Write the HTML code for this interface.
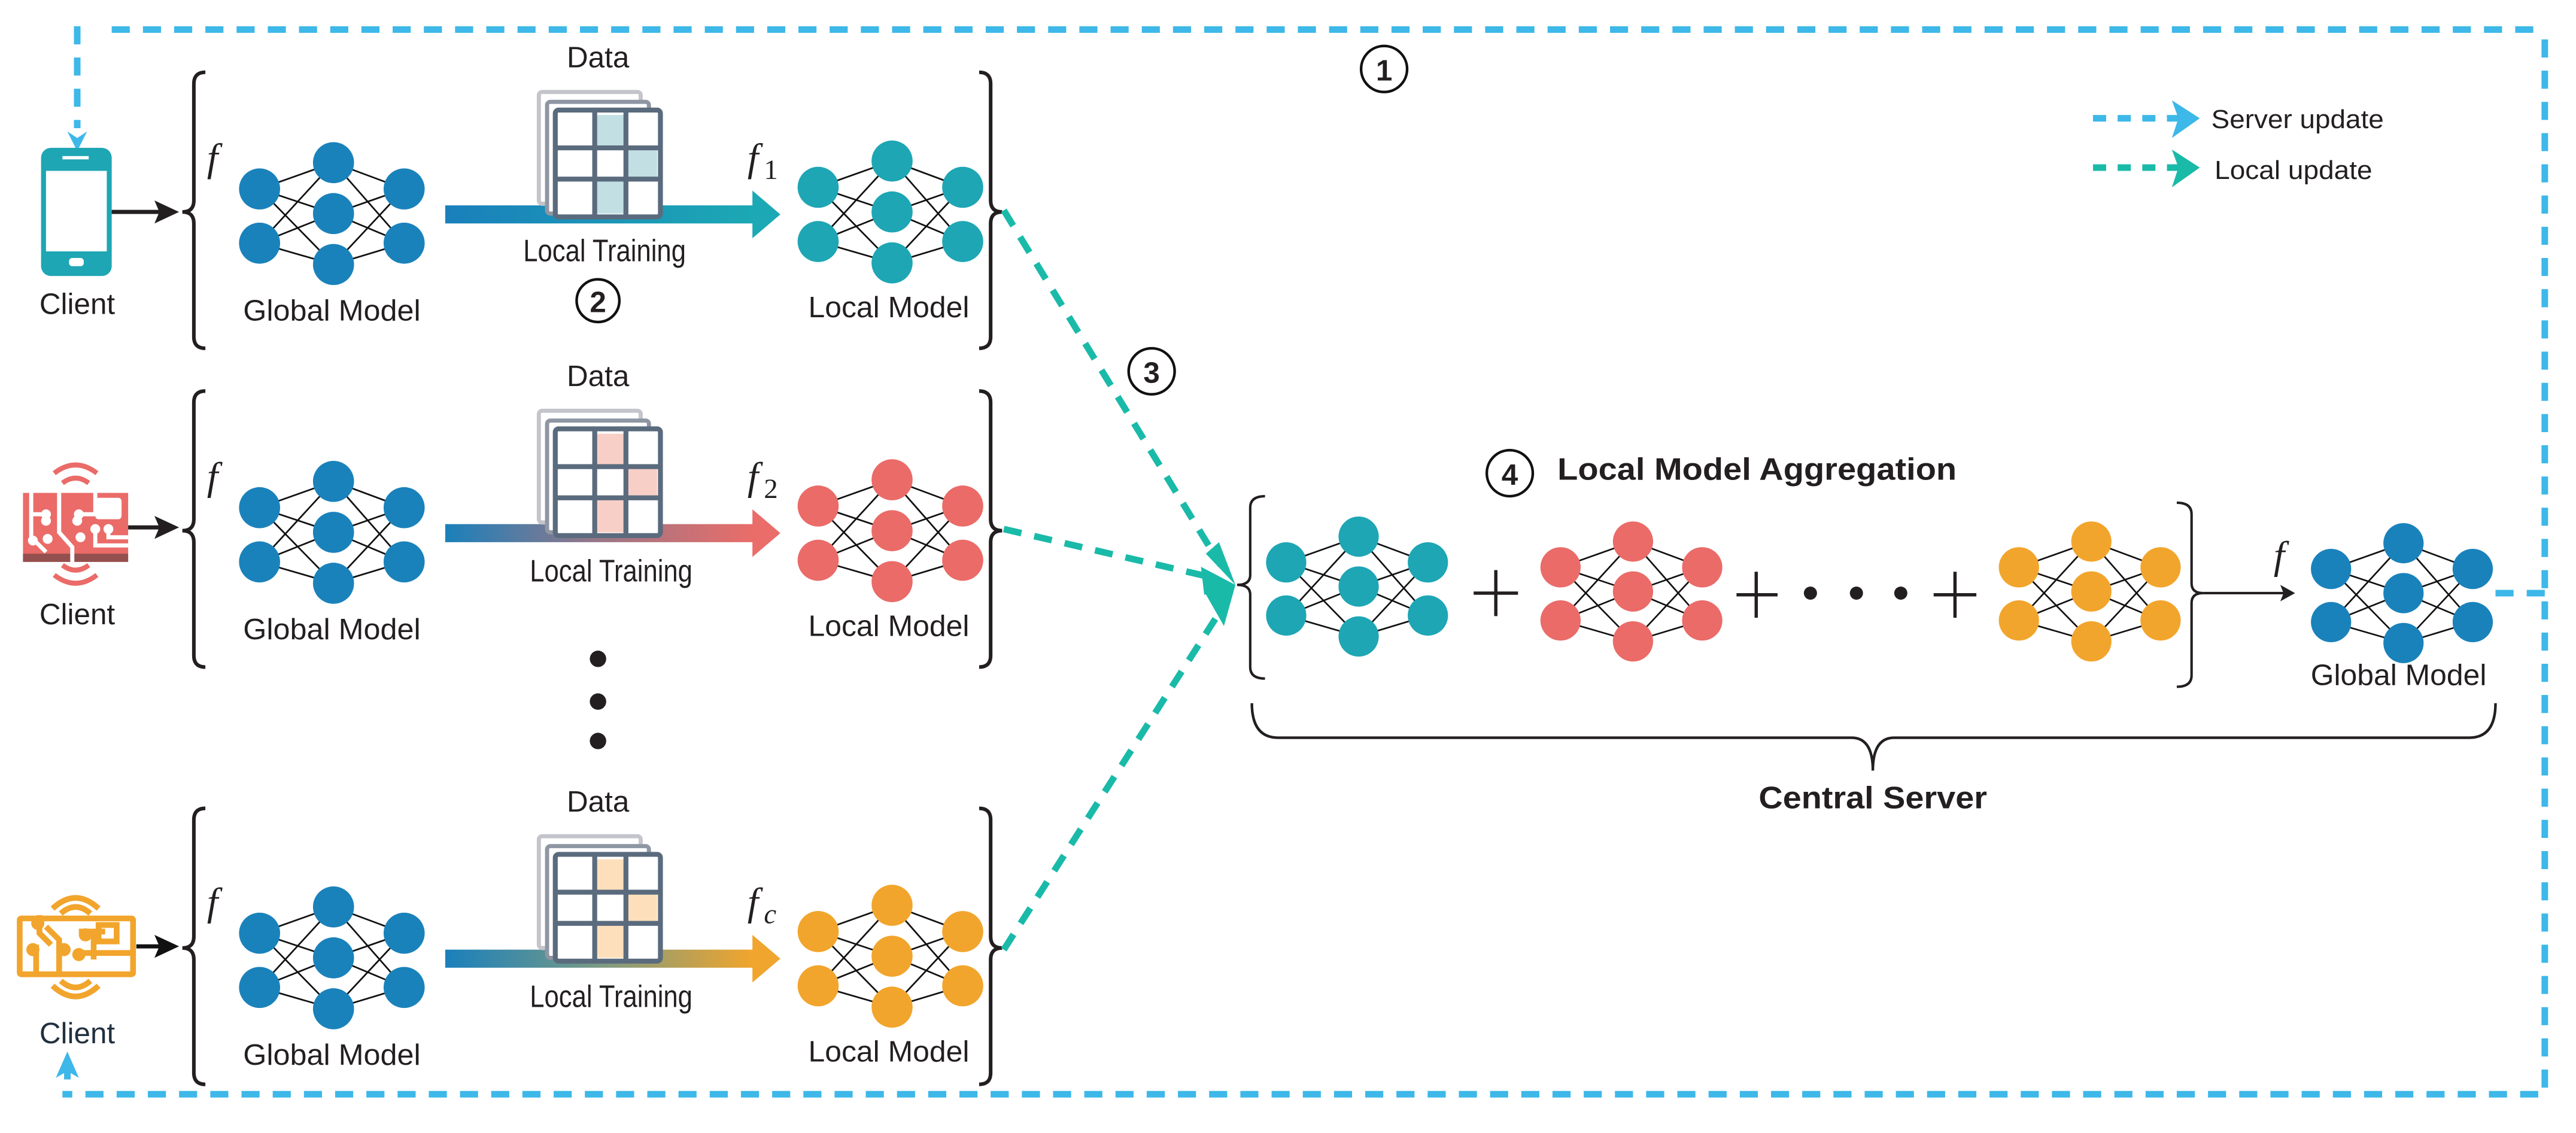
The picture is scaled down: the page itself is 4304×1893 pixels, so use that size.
<!DOCTYPE html>
<html><head><meta charset="utf-8"><style>
html,body{margin:0;padding:0;background:#fff;}
svg{display:block;}
text{font-family:"Liberation Sans Narrow","Liberation Sans",sans-serif;fill:#231f20;}
.lbl{font-size:18px;}
.it{font-family:"Liberation Serif",serif;font-style:italic;font-size:24px;}
.num{font-family:"Liberation Sans",sans-serif;font-weight:bold;font-size:18px;}
</style></head><body>
<svg width="4304" height="1893" viewBox="0 0 1568 689.6" preserveAspectRatio="none" xmlns="http://www.w3.org/2000/svg">
<defs>
<g id="net">
 <g stroke="#111" stroke-width="1" fill="none">
  <path d="M-45,-15L0,-31M-45,-15L0,0M-45,-15L0,31M-45,18L0,-31M-45,18L0,0M-45,18L0,31"/>
  <path d="M43,-15L0,-31M43,-15L0,0M43,-15L0,31M43,18L0,-31M43,18L0,0M43,18L0,31"/>
 </g>
 <circle cx="-45" cy="-15" r="12.5"/><circle cx="-45" cy="18" r="12.5"/>
 <circle cx="0" cy="-31" r="12.5"/><circle cx="0" cy="0" r="12.5"/><circle cx="0" cy="31" r="12.5"/>
 <circle cx="43" cy="-15" r="12.5"/><circle cx="43" cy="18" r="12.5"/>
</g>
<g id="lbr" fill="none" stroke="#231f20" stroke-width="2.2">
 <path d="M10,0 Q3,0 3,7 L3,78 Q3,85 -4,85 Q3,85 3,92 L3,161 Q3,168 10,168"/>
</g>
<g id="rbr" fill="none" stroke="#231f20" stroke-width="2.2">
 <path d="M-10,0 Q-3,0 -3,7 L-3,78 Q-3,85 4,85 Q-3,85 -3,92 L-3,161 Q-3,168 -10,168"/>
</g>
<linearGradient id="g1" x1="0" x2="1"><stop offset="0" stop-color="#1a80bb"/><stop offset="1" stop-color="#1ca8b4"/></linearGradient>
<linearGradient id="g2" x1="0" x2="1"><stop offset="0" stop-color="#1a80bb"/><stop offset="0.5" stop-color="#9a7686"/><stop offset="1" stop-color="#ea6d69"/></linearGradient>
<linearGradient id="g3" x1="0" x2="1"><stop offset="0" stop-color="#1a80bb"/><stop offset="0.5" stop-color="#7a9a84"/><stop offset="1" stop-color="#f2a52c"/></linearGradient>
<g id="stack">
 <rect x="328" y="56" width="62" height="68" rx="2" fill="#fff" stroke="#c4c5cc" stroke-width="2.5"/>
 <rect x="333" y="62" width="62" height="68" rx="2" fill="#fff" stroke="#8e96a3" stroke-width="2.5"/>
</g>
</defs>

<g stroke="#3db8e8" stroke-width="4" fill="none" stroke-dasharray="11 8">
 <path d="M1542,18 L62,18"/>
 <path d="M1549,24 L1549,666 L38,666"/>
 <path d="M47,16 L47,78"/>
 <path d="M1519,361 L1549,361"/>
</g>
<path d="M41,80 L47,92 L53,80 L47,84Z" fill="#3db8e8"/>
<path d="M34,656 L41,640 L48,656 L41,652Z" fill="#3db8e8"/>
<rect x="39" y="650" width="4" height="7" fill="#3db8e8"/>

<g stroke-width="4" stroke-dasharray="8 7">
 <line x1="1274" y1="72" x2="1328" y2="72" stroke="#3db8e8"/>
 <line x1="1274" y1="102" x2="1328" y2="102" stroke="#1abaa9"/>
</g>
<path d="M1322,61 L1339,72 L1322,84 L1326,72Z" fill="#3db8e8"/>
<path d="M1322,91 L1339,102 L1322,114 L1326,102Z" fill="#1abaa9"/>
<text x="1346" y="78" style="font-size:16px" textLength="105" lengthAdjust="spacingAndGlyphs">Server update</text>
<text x="1348" y="109" style="font-size:16px" textLength="96" lengthAdjust="spacingAndGlyphs">Local update</text>

<circle cx="842.5" cy="42" r="14" fill="none" stroke="#111" stroke-width="1.6"/>
<text x="842.5" y="49" text-anchor="middle" class="num">1</text>

<rect x="25" y="90" width="43" height="78" rx="6" fill="#1ea6b4"/>
<rect x="28" y="104" width="37" height="49" fill="#fff"/>
<rect x="42" y="157" width="9" height="5" rx="2" fill="#fff"/>
<rect x="38" y="95" width="16" height="2" fill="#fff"/>
<text x="47" y="191" text-anchor="middle" class="lbl" textLength="46" lengthAdjust="spacingAndGlyphs">Client</text>
<line x1="68" y1="129" x2="98" y2="129" stroke="#231f20" stroke-width="2.5"/>
<path d="M94,122 L109,129 L94,136 L97,129Z" fill="#231f20"/>
<use href="#lbr" x="115" y="44"/>
<use href="#rbr" x="606" y="44"/>
<text x="126" y="104" class="it">f</text>
<use href="#net" x="203" y="130" fill="#1a82bb"/>
<text x="202" y="195" text-anchor="middle" class="lbl" textLength="108" lengthAdjust="spacingAndGlyphs">Global Model</text>
<text x="364" y="41" text-anchor="middle" class="lbl" textLength="38" lengthAdjust="spacingAndGlyphs">Data</text>
<rect x="271" y="125" width="188" height="11" fill="url(#g1)"/>
<path d="M458,116 L475,130.5 L458,145Z" fill="#1ca8b4"/>
<use href="#stack"/>
<g>
 <rect x="338" y="67" width="64" height="65" rx="2" fill="#fff" stroke="#5b6b7e" stroke-width="3"/>
 <rect x="362" y="70" width="19" height="20" fill="#c2dfe4"/>
 <rect x="381" y="90" width="19" height="19" fill="#c2dfe4"/>
 <rect x="362" y="109" width="19" height="21" fill="#c2dfe4"/>
 <g stroke="#5b6b7e" stroke-width="3"><line x1="362" y1="67" x2="362" y2="132"/><line x1="381" y1="67" x2="381" y2="132"/><line x1="338" y1="90" x2="402" y2="90"/><line x1="338" y1="109" x2="402" y2="109"/></g>
</g>
<text x="368" y="159" text-anchor="middle" style="font-size:19px" textLength="99" lengthAdjust="spacingAndGlyphs">Local Training</text>
<circle cx="364" cy="183" r="13" fill="none" stroke="#111" stroke-width="1.6"/>
<text x="364" y="190" text-anchor="middle" class="num">2</text>
<text x="455" y="104" class="it">f</text><text x="465" y="109" style="font-family:'Liberation Serif',serif;font-size:17px">1</text>
<use href="#net" x="543" y="129" fill="#1ea6b4"/>
<text x="541" y="193" text-anchor="middle" class="lbl" textLength="98" lengthAdjust="spacingAndGlyphs">Local Model</text>

<g transform="translate(0,194)">
 <use href="#lbr" x="115" y="44"/>
 <use href="#rbr" x="606" y="44"/>
 <text x="126" y="104" class="it">f</text>
 <use href="#net" x="203" y="130" fill="#1a82bb"/>
 <text x="202" y="195" text-anchor="middle" class="lbl" textLength="108" lengthAdjust="spacingAndGlyphs">Global Model</text>
 <text x="364" y="41" text-anchor="middle" class="lbl" textLength="38" lengthAdjust="spacingAndGlyphs">Data</text>
 <rect x="271" y="125" width="188" height="11" fill="url(#g2)"/>
 <path d="M458,116 L475,130.5 L458,145Z" fill="#ea6d69"/>
 <use href="#stack"/>
 <rect x="338" y="67" width="64" height="65" rx="2" fill="#fff" stroke="#5b6b7e" stroke-width="3"/>
 <rect x="362" y="70" width="19" height="20" fill="#f8cfc6"/>
 <rect x="381" y="90" width="19" height="19" fill="#f8cfc6"/>
 <rect x="362" y="109" width="19" height="21" fill="#f8cfc6"/>
 <g stroke="#5b6b7e" stroke-width="3"><line x1="362" y1="67" x2="362" y2="132"/><line x1="381" y1="67" x2="381" y2="132"/><line x1="338" y1="90" x2="402" y2="90"/><line x1="338" y1="109" x2="402" y2="109"/></g>
 <text x="372" y="160" text-anchor="middle" style="font-size:19px" textLength="99" lengthAdjust="spacingAndGlyphs">Local Training</text>
 <text x="455" y="104" class="it">f</text><text x="465" y="109" style="font-family:'Liberation Serif',serif;font-size:17px">2</text>
 <use href="#net" x="543" y="129" fill="#ea6b68"/>
 <text x="541" y="193" text-anchor="middle" class="lbl" textLength="98" lengthAdjust="spacingAndGlyphs">Local Model</text>
</g>
<g fill="#ea6b68">
 <rect x="14" y="300" width="64" height="42"/>
 <rect x="14" y="337" width="64" height="5" fill="#94504e"/>
 <path d="M33,288 Q46,278 59,288" fill="none" stroke="#ea6b68" stroke-width="3"/>
 <path d="M38,294 Q46,288 54,294" fill="none" stroke="#ea6b68" stroke-width="3"/>
 <path d="M33,350 Q46,360 59,350" fill="none" stroke="#ea6b68" stroke-width="3"/>
 <path d="M38,344 Q46,350 54,344" fill="none" stroke="#ea6b68" stroke-width="3"/>
</g>
<g stroke="#fff" stroke-width="2.5" fill="none">
 <path d="M19,300 L19,327 L28,336"/><path d="M36,300 L36,324 L44,333 L44,342"/>
 <path d="M20,313 L28,313"/><path d="M48,313 L58,313 L58,300"/>
 <path d="M58,322 L58,332 L78,332"/><path d="M66,322 L66,327 L78,327"/>
</g>
<g fill="#fff"><circle cx="28" cy="313" r="3"/><circle cx="48" cy="313" r="3"/><circle cx="28" cy="317" r="3"/><circle cx="47" cy="317" r="3"/><circle cx="20" cy="329" r="3"/><circle cx="29" cy="328" r="3"/><circle cx="49" cy="327" r="3"/><circle cx="58" cy="322" r="3"/><circle cx="66" cy="322" r="3"/><rect x="58" y="303" width="16" height="13" rx="2"/></g>
<text x="47" y="380" text-anchor="middle" class="lbl" textLength="46" lengthAdjust="spacingAndGlyphs">Client</text>
<line x1="78" y1="321" x2="98" y2="321" stroke="#231f20" stroke-width="2.5"/>
<path d="M94,314 L109,321 L94,328 L97,321Z" fill="#231f20"/>

<circle cx="364" cy="401" r="5" fill="#231f20"/>
<circle cx="364" cy="427" r="5" fill="#231f20"/>
<circle cx="364" cy="451" r="5" fill="#231f20"/>

<use href="#lbr" x="115" y="492"/>
<use href="#rbr" x="606" y="492"/>
<g transform="translate(0,453)">
 <text x="126" y="104" class="it">f</text>
 <use href="#net" x="203" y="130" fill="#1a82bb"/>
 <text x="202" y="195" text-anchor="middle" class="lbl" textLength="108" lengthAdjust="spacingAndGlyphs">Global Model</text>
 <text x="364" y="41" text-anchor="middle" class="lbl" textLength="38" lengthAdjust="spacingAndGlyphs">Data</text>
 <rect x="271" y="125" width="188" height="11" fill="url(#g3)"/>
 <path d="M458,116 L475,130.5 L458,145Z" fill="#f0a52e"/>
 <use href="#stack"/>
 <rect x="338" y="67" width="64" height="65" rx="2" fill="#fff" stroke="#5b6b7e" stroke-width="3"/>
 <rect x="362" y="70" width="19" height="20" fill="#fde0bb"/>
 <rect x="381" y="90" width="19" height="19" fill="#fde0bb"/>
 <rect x="362" y="109" width="19" height="21" fill="#fde0bb"/>
 <g stroke="#5b6b7e" stroke-width="3"><line x1="362" y1="67" x2="362" y2="132"/><line x1="381" y1="67" x2="381" y2="132"/><line x1="338" y1="90" x2="402" y2="90"/><line x1="338" y1="109" x2="402" y2="109"/></g>
 <text x="372" y="160" text-anchor="middle" style="font-size:19px" textLength="99" lengthAdjust="spacingAndGlyphs">Local Training</text>
 <text x="455" y="104" class="it">f</text><text x="465" y="109" style="font-family:'Liberation Serif',serif;font-style:italic;font-size:17px">c</text>
 <use href="#net" x="543" y="129" fill="#f2a52c"/>
 <text x="541" y="193" text-anchor="middle" class="lbl" textLength="98" lengthAdjust="spacingAndGlyphs">Local Model</text>
</g>
<g fill="none" stroke="#f2a52c" stroke-width="3.5">
 <rect x="12" y="559" width="69" height="34" rx="1"/>
 <path d="M32,553 Q46,540 60,553"/><path d="M37,556 Q46,548 55,556"/>
 <path d="M32,600 Q46,613 60,600"/><path d="M37,597 Q46,605 55,597"/>
 <path d="M57,567 L57,584"/>
 <path d="M22,575 L22,592"/><path d="M24,557 L24,568 L31,575"/>
 <path d="M36,592 L36,572 L28,564"/>
 <path d="M48,567 L64,567"/><path d="M50,580 L80,580"/>
</g>
<g fill="#f2a52c"><circle cx="23" cy="562" r="4"/><circle cx="39" cy="578" r="4"/><circle cx="20" cy="578" r="4"/><circle cx="52" cy="569" r="4"/><circle cx="48" cy="581" r="4"/></g>
<rect x="60" y="563" width="11" height="10" fill="none" stroke="#f2a52c" stroke-width="3.5"/>
<text x="47" y="635" text-anchor="middle" class="lbl" style="fill:#22303f" textLength="46" lengthAdjust="spacingAndGlyphs">Client</text>
<line x1="83" y1="576" x2="98" y2="576" stroke="#111" stroke-width="2.5"/>
<path d="M94,569 L109,576 L94,583 L97,576Z" fill="#111"/>

<g stroke="#1abaa9" stroke-width="4" fill="none" stroke-dasharray="11 8">
 <path d="M611,128 L743,344"/>
 <path d="M611,322 L740,352"/>
 <path d="M611,578 L744,370"/>
</g>
<path d="M734,337 L752,356 L742,330Z" fill="#1abaa9"/>
<path d="M731,345 L752,356 L733,362Z" fill="#1abaa9"/>
<path d="M733,360 L752,356 L745,381Z" fill="#1abaa9"/>
<circle cx="701" cy="226" r="14" fill="none" stroke="#111" stroke-width="1.6"/>
<text x="701" y="233" text-anchor="middle" class="num">3</text>

<circle cx="919" cy="288" r="14" fill="none" stroke="#111" stroke-width="1.6"/>
<text x="919" y="295" text-anchor="middle" class="num">4</text>
<text x="948" y="292" style="font-family:'Liberation Sans',sans-serif;font-weight:bold;font-size:19px" textLength="243" lengthAdjust="spacingAndGlyphs">Local Model Aggregation</text>
<g fill="none" stroke="#231f20" stroke-width="1.5">
 <path d="M770,302 Q761,302 761,309 L761,350 Q761,356 753,356 Q761,356 761,362 L761,406 Q761,413 770,413"/>
 <path d="M1325,306 Q1334,306 1334,313 L1334,355 Q1334,361 1341,361 Q1334,361 1334,367 L1334,411 Q1334,418 1325,418"/>
</g>
<g transform="translate(827,357) scale(0.98,0.98)"><use href="#net" fill="#1ea6b4"/></g>
<g transform="translate(994,360) scale(0.98,0.98)"><use href="#net" fill="#ea6b68"/></g>
<g transform="translate(1273,360) scale(0.98,0.98)"><use href="#net" fill="#f2a52c"/></g>
<g stroke="#231f20" stroke-width="2">
 <line x1="897" y1="361" x2="924" y2="361"/><line x1="910.5" y1="347" x2="910.5" y2="375"/>
 <line x1="1057" y1="362" x2="1082" y2="362"/><line x1="1069" y1="348" x2="1069" y2="376"/>
 <line x1="1177" y1="362" x2="1203" y2="362"/><line x1="1190" y1="348" x2="1190" y2="376"/>
</g>
<circle cx="1102" cy="361" r="4" fill="#231f20"/><circle cx="1130" cy="361" r="4" fill="#231f20"/><circle cx="1157" cy="361" r="4" fill="#231f20"/>
<line x1="1341" y1="361" x2="1392" y2="361" stroke="#231f20" stroke-width="1.5"/>
<path d="M1388,356 L1397,361 L1388,366 L1390,361Z" fill="#231f20"/>
<text x="1384" y="346" class="it">f</text>
<g transform="translate(1463,361) scale(0.98,0.98)"><use href="#net" fill="#1a82bb"/></g>
<text x="1460" y="417" text-anchor="middle" class="lbl" textLength="107" lengthAdjust="spacingAndGlyphs">Global Model</text>

<path d="M762,428 Q762,449 778,449 L1127,449 Q1140,449 1140,469 Q1140,449 1153,449 L1503,449 Q1519,449 1519,428" fill="none" stroke="#231f20" stroke-width="1.6"/>
<text x="1140" y="492" text-anchor="middle" style="font-family:'Liberation Sans',sans-serif;font-weight:bold;font-size:19px" textLength="139" lengthAdjust="spacingAndGlyphs">Central Server</text>
</svg>
</body></html>
